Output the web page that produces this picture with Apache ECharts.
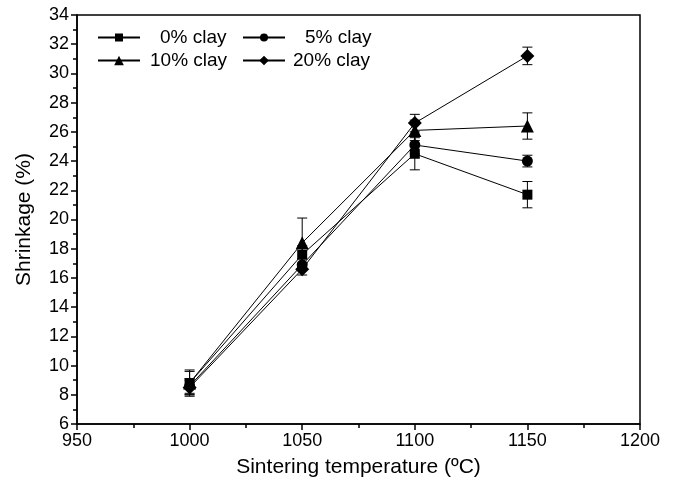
<!DOCTYPE html>
<html>
<head>
<meta charset="utf-8">
<script src="https://cdn.jsdelivr.net/npm/echarts@6/dist/echarts.min.js"></script>
<style>
  html, body { margin: 0; padding: 0; background: #fff; }
  #chart { width: 676px; height: 490px; }
</style>
</head>
<body>
<div id="chart"></div>
<script>
// Sintering temperatures (°C)
const temperatures = [1000, 1050, 1100, 1150];

// Shrinkage (%) for each clay content, with standard deviation
const clay0 = [8.8, 17.6, 24.5, 21.7];
const clay0Err = [0.8, 0.6, 1.1, 0.9];
const clay5 = [8.6, 16.9, 25.1, 24.0];
const clay5Err = [0.5, 0.4, 0.6, 0.4];
const clay10 = [8.8, 18.4, 26.1, 26.4];
const clay10Err = [0.9, 1.7, 0.7, 0.9];
const clay20 = [8.5, 16.6, 26.6, 31.2];
const clay20Err = [0.5, 0.4, 0.6, 0.6];

const seriesNames = ['0% clay', '5% clay', '10% clay', '20% clay'];
const seriesValues = [clay0, clay5, clay10, clay20];
const seriesErrors = [clay0Err, clay5Err, clay10Err, clay20Err];
const symbols = ['rect', 'circle', 'triangle', 'diamond'];
const symbolSizes = [10, 11, 13, 14];

const font = 'Arial, "Liberation Sans", sans-serif';

const lineSeries = seriesNames.map((name, i) => ({
  name: name,
  type: 'line',
  data: temperatures.map((t, j) => [t, seriesValues[i][j]]),
  symbol: symbols[i],
  symbolSize: symbolSizes[i],
  showAllSymbol: true,
  lineStyle: { color: '#000', width: 1 },
  itemStyle: { color: '#000' },
  z: 3
}));

const errorSeries = seriesNames.map((name, i) => ({
  type: 'custom',
  name: name + ' error',
  data: temperatures.map((t, j) => [t, seriesValues[i][j] - seriesErrors[i][j], seriesValues[i][j] + seriesErrors[i][j]]),
  renderItem: function (params, api) {
    const lo = api.coord([api.value(0), api.value(1)]);
    const hi = api.coord([api.value(0), api.value(2)]);
    const half = 5;
    const style = { stroke: '#000', lineWidth: 1 };
    return {
      type: 'group',
      children: [
        { type: 'line', shape: { x1: lo[0], y1: lo[1], x2: hi[0], y2: hi[1] }, style: style },
        { type: 'line', shape: { x1: lo[0] - half, y1: lo[1], x2: lo[0] + half, y2: lo[1] }, style: style },
        { type: 'line', shape: { x1: hi[0] - half, y1: hi[1], x2: hi[0] + half, y2: hi[1] }, style: style }
      ]
    };
  },
  z: 2,
  silent: true
}));

function legendAt(name, left, top, pad, iconH) {
  return {
    data: [name],
    left: left,
    top: top,
    itemWidth: 42,
    itemHeight: iconH,
    padding: 0,
    selectedMode: false,
    textStyle: { fontFamily: font, fontSize: 19, color: '#000', padding: [0, 0, 0, pad] }
  };
}

const axisCommon = {
  axisLine: { show: true, lineStyle: { color: '#000', width: 1.5 } },
  axisTick: { show: true, length: 6, lineStyle: { color: '#000', width: 1.5 } },
  minorTick: { show: true, splitNumber: 2, length: 4, lineStyle: { color: '#000', width: 1.5 } },
  axisLabel: { fontFamily: font, fontSize: 18, color: '#000', margin: 8, formatter: v => String(v) },
  nameTextStyle: { fontFamily: font, fontSize: 21, color: '#000' },
  splitLine: { show: false }
};

const option = {
  backgroundColor: '#fff',
  animation: false,
  grid: {
    left: 77, right: 36, top: 15, bottom: 66,
    show: true, borderColor: '#000', borderWidth: 1.5
  },
  legend: [
    legendAt('0% clay', 97, 28, 15, 10),
    legendAt('5% clay', 242, 28, 15, 10),
    legendAt('10% clay', 97, 51, 5, 12),
    legendAt('20% clay', 242, 51, 3, 12)
  ],
  xAxis: Object.assign({
    type: 'value', min: 950, max: 1200, interval: 50,
    name: 'Sintering temperature (ºC)', nameLocation: 'middle', nameGap: 33
  }, axisCommon),
  yAxis: Object.assign({
    type: 'value', min: 6, max: 34, interval: 2,
    name: 'Shrinkage (%)', nameLocation: 'middle', nameGap: 42
  }, axisCommon),
  series: errorSeries.concat(lineSeries)
};

const chart = echarts.init(document.getElementById('chart'), null, { renderer: 'canvas' });
chart.setOption(option);
</script>
</body>
</html>
